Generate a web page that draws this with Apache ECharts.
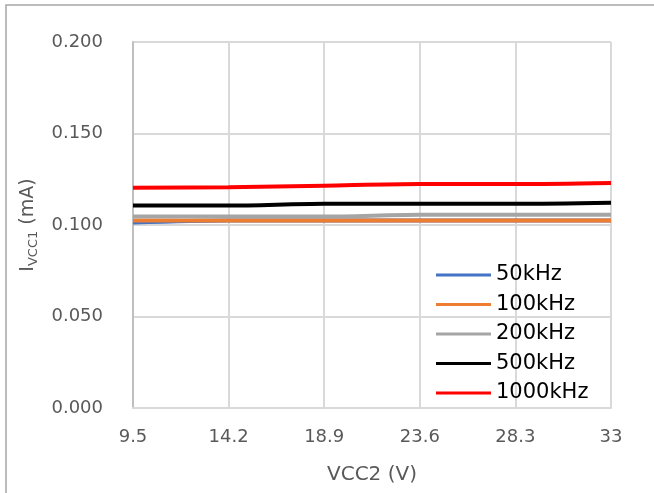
<!DOCTYPE html>
<html>
<head>
<meta charset="utf-8">
<script src="https://cdn.jsdelivr.net/npm/echarts@6/dist/echarts.min.js"></script>
<style>
  html, body { margin: 0; padding: 0; background: #fff; }
  #chart { width: 654px; height: 493px; }
</style>
</head>
<body>
<div id="chart"></div>
<script>
// x categories (VCC2, V)
const vcc2 = ['9.5', '14.2', '18.9', '23.6', '28.3', '33']

// IVCC1 (mA) per switching frequency
const f50k = [0.1013, 0.1024, 0.1024, 0.1024, 0.1024, 0.1024]
const f100k = [0.1024, 0.1024, 0.1024, 0.1024, 0.1024, 0.1024]
const f200k = [0.1046, 0.1046, 0.1046, 0.1056, 0.1056, 0.1056]
const f500k = [0.1106, 0.1106, 0.1116, 0.1116, 0.1116, 0.1122]
const f1000k = [0.1204, 0.1206, 0.1215, 0.1224, 0.1224, 0.1230]

const seriesNames = ['50kHz', '100kHz', '200kHz', '500kHz', '1000kHz']
const seriesColors = ['#4472c4', '#ed7d31', '#a5a5a5', '#000000', '#ff0000']
const seriesData = [f50k, f100k, f200k, f500k, f1000k]

const font = '"DejaVu Sans", sans-serif'
const myChart = echarts.init(document.getElementById('chart'))

const option = {
  animation: false,
  backgroundColor: '#fff',
  textStyle: { fontFamily: font },
  graphic: [
    {
      type: 'rect',
      shape: { x: 6, y: 5, width: 700, height: 600 },
      style: { fill: 'none', stroke: '#a6a6a6', lineWidth: 1.5 },
      silent: true
    }
  ],
  grid: { left: 133, right: 43, top: 42, bottom: 85 },
  legend: {
    orient: 'vertical',
    left: 431,
    top: 259,
    itemWidth: 55,
    itemHeight: 3,
    itemGap: 7.5,
    icon: 'rect',
    textStyle: { fontSize: 21, lineHeight: 22, color: '#000', fontFamily: font },
    data: seriesNames
  },
  xAxis: {
    type: 'category',
    data: vcc2,
    boundaryGap: false,
    name: 'VCC2 (V)',
    nameLocation: 'middle',
    nameGap: 57,
    nameTextStyle: { fontSize: 20, color: '#595959' },
    axisLine: { lineStyle: { color: '#d9d9d9', width: 2 } },
    axisTick: { show: false },
    axisLabel: { fontSize: 18, color: '#595959', margin: 20 },
    splitLine: { show: true, lineStyle: { color: '#d9d9d9', width: 2 } }
  },
  yAxis: {
    type: 'value',
    min: 0,
    max: 0.2,
    interval: 0.05,
    name: '{m|I}{s|VCC1}{m| (mA)}',
    nameLocation: 'middle',
    nameGap: 90,
    nameTextStyle: {
      rich: {
        m: { fontSize: 19, lineHeight: 24, verticalAlign: 'top', color: '#595959', fontFamily: font },
        s: { fontSize: 13, lineHeight: 16, verticalAlign: 'top', padding: [9, 0, 0, 0], color: '#595959', fontFamily: font }
      }
    },
    axisLine: { show: true, lineStyle: { color: '#bfbfbf', width: 2 } },
    axisTick: { show: false },
    axisLabel: {
      fontSize: 18,
      color: '#595959',
      margin: 30,
      formatter: v => v.toFixed(3)
    },
    splitLine: { lineStyle: { color: '#d9d9d9', width: 2 } }
  },
  series: seriesNames.map((name, i) => ({
    name: name,
    type: 'line',
    data: seriesData[i],
    symbol: 'none',
    smooth: 0.3,
    color: seriesColors[i],
    lineStyle: { width: 4, color: seriesColors[i] }
  }))
}

myChart.setOption(option)
</script>
</body>
</html>
